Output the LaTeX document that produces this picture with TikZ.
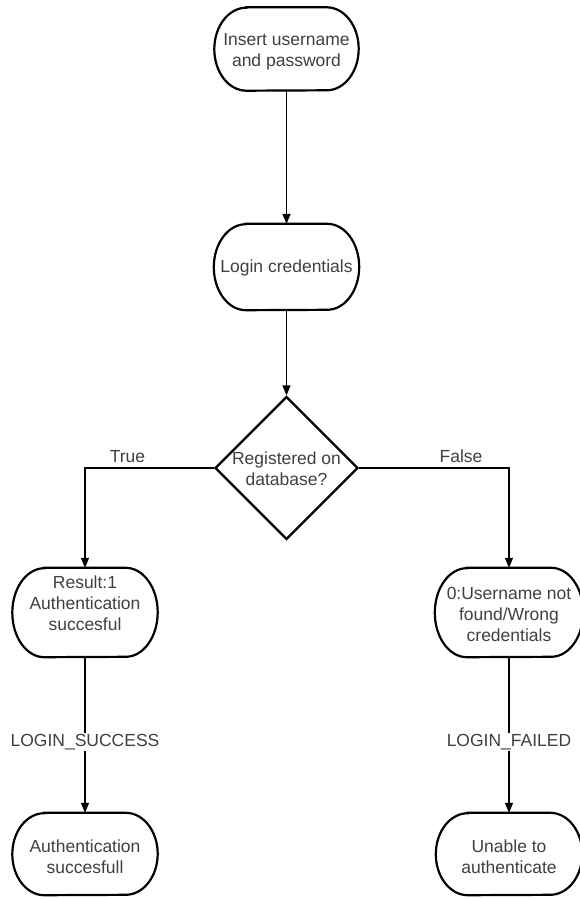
\documentclass[tikz,border=0pt]{standalone}
\usepackage{fontspec}
\setmainfont{Liberation Sans}
\usetikzlibrary{shapes.geometric,arrows.meta,calc}
\definecolor{txtgray}{HTML}{404040}
\tikzset{
 box/.style={rectangle, inner sep=0pt},
 outline/.style={draw=black, line width=2.2pt},
 lbl/.style={text=txtgray, font=\fontsize{17.5}{21}\selectfont, align=center, inner sep=1pt},
 arr/.style={draw=black, line width=1.4pt, -{Triangle[length=10pt,width=8pt]}},
}
\newcommand{\termnode}[7]{%
 \node[box, minimum width=#4pt, minimum height=#5pt] (#1) at (#2pt,#3pt) {};
 \draw[outline] ($(#1.north west)+(32pt,0)$) -- ($(#1.north east)+(-32pt,0)$)
   arc[start angle=90,end angle=-90,x radius=32pt,y radius=#5pt/2] -- ($(#1.south west)+(32pt,0)$)
   arc[start angle=270,end angle=90,x radius=32pt,y radius=#5pt/2] -- cycle;
 \node[lbl] (#1t) at (#2pt,#6pt) {#7};
}
\begin{document}
\begin{tikzpicture}
\fill[white] (0,0) rectangle (579pt,-899pt);
\useasboundingbox (0,0) rectangle (579pt,-899pt);
\termnode{n1}{286.5}{-49}{144}{83}{-52}{Insert username\\and password}
\termnode{n2}{286.5}{-267}{145}{86}{-268}{Login credentials}
\node[diamond, draw, line width=2.2pt, minimum width=143pt, minimum height=143pt, inner sep=0pt, aspect=1] (d) at (286.5pt,-468pt) {};
\node[lbl] (dt) at (286.5pt,-469pt) {Registered on\\database?};
\termnode{r1}{85}{-612.5}{145}{89}{-603}{Result:1\\Authentication\\succesful}
\termnode{r0}{509}{-612.5}{148}{89}{-614}{0:Username not\\found/Wrong\\credentials}
\termnode{s1}{85}{-854}{145}{82}{-857}{Authentication\\succesfull}
\termnode{s0}{509}{-854}{146}{82}{-857}{Unable to\\authenticate}
\draw[arr] (n1.south) -- (n2.north);
\draw[arr] (n2.south) -- (d.north);
\draw[arr] (d.west) -| node[lbl, pos=0.335, anchor=base, yshift=6pt]{True} (r1.north);
\draw[arr] (d.east) -| node[lbl, pos=0.34, anchor=base, yshift=6pt]{False} (r0.north);
\draw[arr] (r1.south) -- node[lbl, fill=white, pos=0.545]{LOGIN\_SUCCESS} (s1.north);
\draw[arr] (r0.south) -- node[lbl, fill=white, pos=0.545]{LOGIN\_FAILED} (s0.north);
\end{tikzpicture}
\end{document}
